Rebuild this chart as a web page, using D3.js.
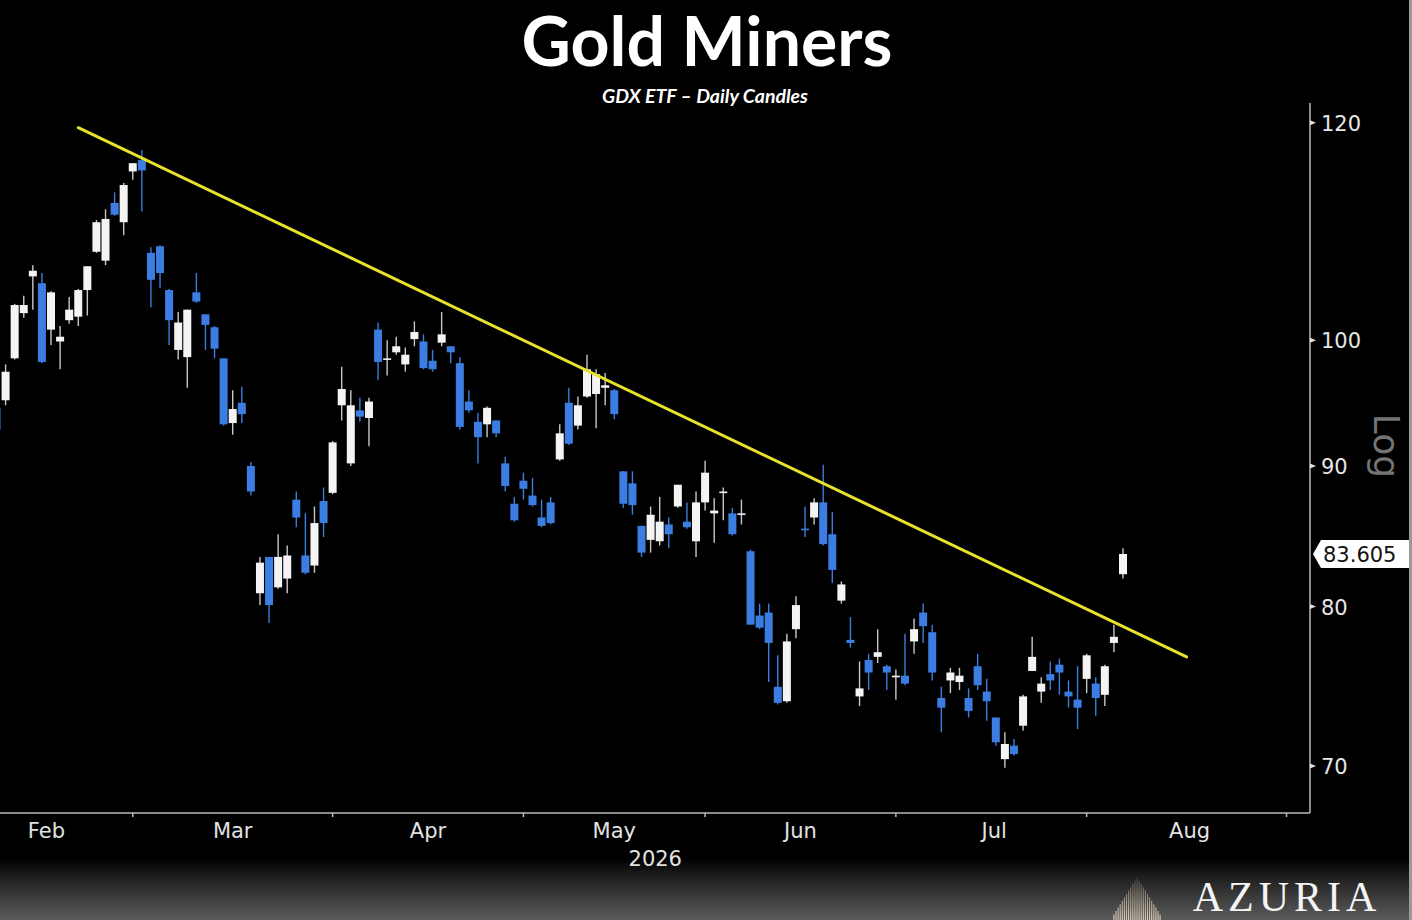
<!DOCTYPE html>
<html>
<head>
<meta charset="utf-8">
<script src="https://cdn.jsdelivr.net/npm/d3@7"></script>
<style>
  html, body { margin: 0; padding: 0; background: #000; }
  svg { display: block; }
</style>
</head>
<body>
<script>
// ---------- DATA ----------
const opens = [94.5,95.1,98.5,102.3,105.5,104.9,100.9,99.9,101.7,102.0,104.3,107.7,106.9,112.2,110.4,115.2,116.3,107.6,108.2,104.3,99.2,98.6,104.1,102.2,101.1,98.5,93.3,94.9,90.0,80.9,83.4,81.3,81.9,87.5,83.5,82.8,87.4,88.0,94.7,90.2,94.3,93.7,100.9,98.4,99.0,98.0,100.1,99.9,98.3,99.8,99.5,98.1,95.0,93.4,93.2,93.5,90.2,87.2,88.9,87.8,86.2,87.3,90.5,94.9,93.1,95.4,95.6,96.1,95.9,89.6,88.7,85.6,84.6,84.5,85.7,87.0,85.9,84.5,87.3,86.5,88.0,86.5,86.4,83.8,79.4,79.6,74.8,73.9,78.5,85.4,86.2,87.3,85.0,80.4,77.8,74.2,76.5,76.7,76.1,75.4,75.5,77.7,79.6,78.3,74.1,75.2,75.1,74.1,76.1,74.5,72.9,70.4,71.2,72.4,75.8,74.5,75.6,76.2,74.5,74.0,75.3,75.0,74.3,77.6,82.2];
const highs = [95.1,98.0,103.1,103.8,106.5,105.8,104.2,101.2,103.7,104.4,106.4,110.6,111.6,113.2,114.1,116.0,117.3,108.1,108.3,104.4,102.4,102.6,105.8,102.2,101.2,98.5,95.9,96.2,90.3,83.4,83.4,85.0,84.2,88.1,86.5,87.0,88.4,91.9,97.8,95.9,95.3,95.3,101.5,100.0,100.3,99.4,101.6,100.5,99.2,102.4,99.5,98.6,95.9,94.1,94.6,93.5,90.7,87.7,89.5,89.1,87.5,87.7,93.2,96.1,95.4,98.8,97.6,97.3,96.0,89.6,89.6,85.6,87.0,87.7,86.2,88.6,87.3,88.1,90.4,87.6,88.4,86.9,87.5,83.9,80.2,80.2,76.8,78.2,80.7,87.0,87.6,90.1,86.6,81.7,79.3,76.4,76.9,78.5,76.2,75.9,78.2,79.2,80.2,78.8,74.8,76.0,76.0,74.7,76.9,75.3,72.9,72.0,71.6,74.3,78.0,75.4,76.4,76.6,75.2,76.1,76.9,75.4,76.2,78.8,84.0];
const lows = [92.2,94.7,98.4,101.9,102.6,98.1,99.6,97.6,101.4,101.2,102.1,107.6,106.5,111.0,109.2,114.4,111.4,102.8,104.5,99.6,98.4,96.1,103.2,99.2,98.5,93.1,92.4,93.3,87.8,80.1,78.9,81.2,80.9,85.5,82.2,82.3,84.8,87.9,93.5,90.0,93.4,91.5,96.7,97.1,98.8,97.4,99.5,97.6,97.4,99.5,98.1,92.8,94.1,90.2,92.2,92.2,88.1,85.9,87.5,87.0,85.5,85.7,90.4,91.6,92.8,95.3,92.9,94.7,93.6,86.9,86.4,83.4,83.7,84.2,84.0,86.9,85.4,83.4,86.7,84.4,86.0,84.9,85.7,78.8,78.5,75.1,73.7,73.8,77.9,84.8,85.7,84.2,81.6,80.2,77.3,73.6,74.6,76.3,74.6,74.0,74.9,76.9,77.6,75.2,72.0,74.4,74.6,72.9,74.6,72.7,71.2,69.9,70.6,72.1,75.8,73.8,74.6,74.3,73.5,72.2,74.4,73.0,73.6,77.0,81.9];
const closes = [92.8,97.4,103.0,103.0,106.0,98.2,104.1,100.3,102.6,104.3,106.4,110.4,110.7,111.1,113.9,116.0,115.3,105.2,105.8,101.7,101.5,102.6,103.3,101.3,99.3,93.2,94.4,94.0,88.1,83.0,80.1,83.4,83.5,86.2,82.3,85.8,85.8,91.8,96.0,94.7,93.8,95.0,98.2,98.5,99.5,98.8,100.7,97.7,97.6,100.5,99.0,93.0,94.3,92.2,94.5,92.5,88.5,86.0,88.3,87.1,85.6,85.8,92.5,91.7,94.7,97.6,97.2,96.3,94.0,87.2,87.1,83.7,86.4,85.9,85.0,88.6,85.5,87.3,89.5,86.7,88.1,85.0,86.5,78.8,78.6,77.6,73.8,77.7,80.1,85.3,87.3,84.3,82.5,81.5,77.6,74.7,75.7,77.0,75.7,75.5,75.0,78.5,78.7,75.7,73.5,75.7,75.5,73.3,74.9,73.9,71.4,71.3,70.7,74.2,76.7,75.0,75.2,75.7,74.2,73.5,76.8,74.1,76.1,78.0,83.605];

// month labels and the trading-day index where each month starts
const monthLabels = ["Feb","Mar","Apr","May","Jun","Jul","Aug"];
const monthStarts = [-4, 15, 37, 58, 78, 99, 120, 142];
const yearLabel = "2026";

// y-axis ticks (log scale)
const yTicks = [70, 80, 90, 100, 120];

// yellow trendline: [day index, price]
const trendIdx = [9, 131];
const trendVal = [119.5, 76.7];

const titleText = "Gold Miners";
const subtitleText = "GDX ETF \u2013 Daily Candles";
const brandText = "AZURIA";

// ---------- LAYOUT ----------
const W = 1412, H = 920;
const plotLeft = 0, plotRight = 1310, plotTop = 103, plotBottom = 813;

const svg = d3.select("body").append("svg")
  .attr("width", W).attr("height", H)
  .style("background", "#000");

const defs = svg.append("defs");
const bg = defs.append("linearGradient").attr("id", "bottomGrad")
  .attr("x1", 0).attr("y1", 0).attr("x2", 0).attr("y2", 1);
bg.append("stop").attr("offset", "0%").attr("stop-color", "#000");
bg.append("stop").attr("offset", "30%").attr("stop-color", "#1e1e1e");
bg.append("stop").attr("offset", "100%").attr("stop-color", "#5c5c5c");

const lg = defs.append("linearGradient").attr("id", "logoGrad")
  .attr("gradientUnits", "userSpaceOnUse")
  .attr("x1", 0).attr("y1", 874).attr("x2", 0).attr("y2", 920);
lg.append("stop").attr("offset", "0%").attr("stop-color", "#d8c4a8").attr("stop-opacity", 0.1);
lg.append("stop").attr("offset", "100%").attr("stop-color", "#ecdcc2").attr("stop-opacity", 0.95);

defs.append("clipPath").attr("id", "plotClip")
  .append("rect").attr("x", plotLeft).attr("y", plotTop)
  .attr("width", plotRight - plotLeft).attr("height", plotBottom - plotTop);

// bottom gray band
svg.append("rect").attr("x", 0).attr("y", 858).attr("width", W).attr("height", H - 858)
  .attr("fill", "url(#bottomGrad)");
// right edge strip
svg.append("rect").attr("x", W - 3).attr("y", 0).attr("width", 3).attr("height", H)
  .attr("fill", "#9a9a9a");

// ---------- SCALES ----------
const n = closes.length;
const x = d3.scaleLinear().domain([0, n - 1]).range([-3.5, 1123]);
const y = d3.scaleLog().domain([67.35, 122]).range([plotBottom - 1, plotTop]);
const bodyW = 8;

// ---------- TITLE ----------
svg.append("text").attr("x", 707).attr("y", 66)
  .attr("text-anchor", "middle")
  .attr("font-family", "Lato, 'Open Sans', sans-serif")
  .attr("font-weight", 700).attr("font-size", 68)
  .attr("fill", "#fff").text(titleText);

svg.append("text").attr("x", 705).attr("y", 103)
  .attr("text-anchor", "middle")
  .attr("font-family", "Lato, 'Open Sans', sans-serif")
  .attr("font-weight", 700).attr("font-style", "italic").attr("font-size", 19.5)
  .attr("fill", "#fff").text(subtitleText);

// ---------- CANDLES ----------
const candles = d3.range(n).map(i => ({
  i, o: opens[i], h: highs[i], l: lows[i], c: closes[i], up: closes[i] >= opens[i]
}));
const BLUE = "#3b7de0", WHITE = "#f4f4f4";

const cg = svg.append("g").attr("clip-path", "url(#plotClip)");

cg.selectAll("line.wick").data(candles).join("line")
  .attr("class", "wick")
  .attr("x1", d => x(d.i)).attr("x2", d => x(d.i))
  .attr("y1", d => y(d.h)).attr("y2", d => y(d.l))
  .attr("stroke", d => d.up ? "#c8c8c8" : BLUE)
  .attr("stroke-width", 1.4);

cg.selectAll("rect.body").data(candles).join("rect")
  .attr("class", "body")
  .attr("x", d => x(d.i) - bodyW / 2)
  .attr("width", bodyW)
  .attr("y", d => y(Math.max(d.o, d.c)))
  .attr("height", d => Math.max(1.6, Math.abs(y(d.o) - y(d.c))))
  .attr("fill", d => d.up ? WHITE : BLUE);

// ---------- TRENDLINE ----------
svg.append("line")
  .attr("x1", x(trendIdx[0])).attr("y1", y(trendVal[0]))
  .attr("x2", x(trendIdx[1])).attr("y2", y(trendVal[1]))
  .attr("stroke", "#e8e22c").attr("stroke-width", 3)
  .attr("stroke-linecap", "round");

// ---------- AXES ----------
const axisColor = "#b8b8b8";
const labelFont = "'DejaVu Sans', sans-serif";

// x axis line
svg.append("line").attr("x1", plotLeft).attr("x2", plotRight)
  .attr("y1", plotBottom).attr("y2", plotBottom)
  .attr("stroke", axisColor).attr("stroke-width", 1.5);

// month boundary ticks
svg.selectAll("line.xtick").data(monthStarts.filter(m => x(m) > 0 && x(m) < plotRight)).join("line")
  .attr("class", "xtick")
  .attr("x1", d => x(d)).attr("x2", d => x(d))
  .attr("y1", plotBottom).attr("y2", plotBottom + 4)
  .attr("stroke", axisColor).attr("stroke-width", 1.5);

// month labels centred in each month
svg.selectAll("text.xlab").data(monthLabels).join("text")
  .attr("class", "xlab")
  .attr("x", (d, k) => x((monthStarts[k] + monthStarts[k + 1]) / 2) + (k >= 5 ? 3 : 0))
  .attr("y", 838)
  .attr("text-anchor", "middle")
  .attr("font-family", labelFont).attr("font-size", 21)
  .attr("fill", "#e2e2e2").text(d => d);

svg.append("text").attr("x", x((monthStarts[3] + monthStarts[4]) / 2) + 41).attr("y", 866)
  .attr("text-anchor", "middle")
  .attr("font-family", labelFont).attr("font-size", 21)
  .attr("fill", "#e2e2e2").text(yearLabel);

// y axis line
svg.append("line").attr("x1", plotRight).attr("x2", plotRight)
  .attr("y1", plotTop).attr("y2", plotBottom)
  .attr("stroke", axisColor).attr("stroke-width", 1.5);

const yt = svg.selectAll("g.ytick").data(yTicks).join("g")
  .attr("class", "ytick")
  .attr("transform", d => `translate(${plotRight},${y(d)})`);
yt.append("path").attr("d", "M0,-2.5L6,0L0,2.5Z").attr("fill", "#e0e0e0");
yt.append("text").attr("x", 11).attr("y", 8)
  .attr("font-family", labelFont).attr("font-size", 21)
  .attr("fill", "#e6e6e6").text(d => d3.format("d")(d));

// "Log" label
svg.append("text")
  .attr("transform", "translate(1374,446) rotate(90)")
  .attr("text-anchor", "middle")
  .attr("font-family", labelFont).attr("font-size", 36)
  .attr("fill", "#747474").text("Log");

// last price tag
const last = closes[n - 1];
const ly = y(last);
svg.append("path")
  .attr("d", `M${plotRight + 3},${ly} L${plotRight + 11},${ly - 14} L${W - 3},${ly - 14} L${W - 3},${ly + 14} L${plotRight + 11},${ly + 14} Z`)
  .attr("fill", "#fff");
svg.append("text").attr("x", plotRight + 13).attr("y", ly + 8)
  .attr("font-family", labelFont).attr("font-size", 21)
  .attr("fill", "#111").text(d3.format(".3f")(last));

// ---------- BRAND ----------
const logo = svg.append("g");
const logoCols = d3.range(-11, 12);
logo.selectAll("line").data(logoCols).join("line")
  .attr("x1", d => 1137 + d * 2.1).attr("x2", d => 1137 + d * 2.1)
  .attr("y1", d => 877 + Math.abs(d) * 3.4).attr("y2", 920)
  .attr("stroke", "url(#logoGrad)").attr("stroke-width", 1.1);

svg.append("text").attr("x", 1287).attr("y", 911)
  .attr("text-anchor", "middle")
  .attr("font-family", "'Liberation Serif', 'DejaVu Serif', serif")
  .attr("font-size", 42).attr("letter-spacing", 5)
  .attr("fill", "#f4f4f4").text(brandText);
</script>
</body>
</html>
